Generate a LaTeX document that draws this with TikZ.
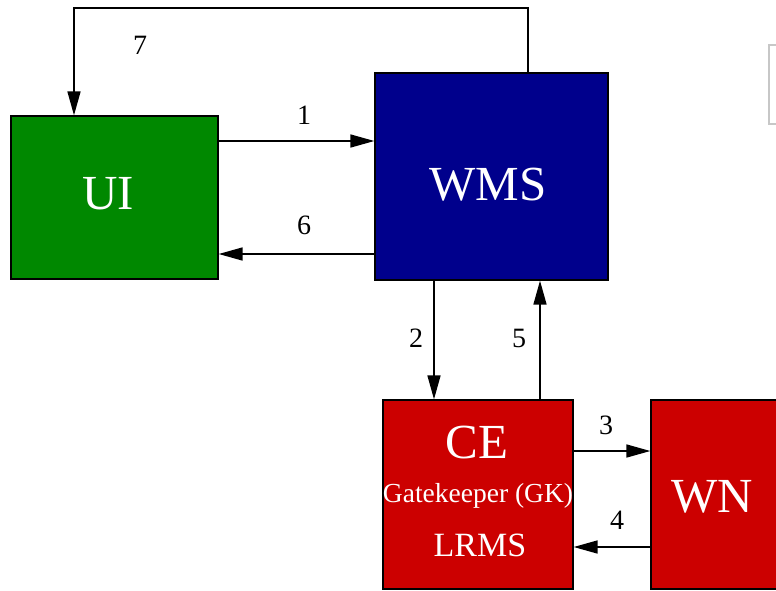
\documentclass[tikz,border=0pt]{standalone}
\usepackage{fontspec}
\setmainfont{Liberation Serif}
\usepackage{xcolor}
\usepackage{tikz}
\usetikzlibrary{arrows.meta, positioning, calc}

\definecolor{uigreen}{RGB}{0,136,0}
\definecolor{wmsblue}{RGB}{0,0,140}
\definecolor{cered}{RGB}{204,0,0}

\begin{document}
\begin{tikzpicture}[x=1pt,y=-1pt,
  box/.style={draw=black,line width=1.3pt,inner sep=0pt},
  big/.style={text=white,font=\fontsize{49}{49}\selectfont},
  arr/.style={line width=1.6pt,-{Triangle[length=24pt,width=13pt]}},
  num/.style={font=\fontsize{28}{28}\selectfont}]
  \useasboundingbox (0,0) rectangle (776,590);
  \clip (0,0) rectangle (776,590);

  % Boxes
  \node[box,fill=uigreen,minimum width=207pt,minimum height=163pt] (UI) at (114.5,197.5) {};
  \node[box,fill=wmsblue,minimum width=233pt,minimum height=207pt] (WMS) at (491.5,176.5) {};
  \node[box,fill=cered,minimum width=190pt,minimum height=189pt] (CE) at (478,494.5) {};
  \node[box,fill=cered,minimum width=240pt,minimum height=189pt] (WN) at (771,494.5) {};

  % Box texts
  \node[big] (uilabel) at (108,194) {UI};
  \node[big] (wmslabel) at (488,185) {WMS};
  \node[big] (celabel) at (477,443) {CE};
  \node[text=white,font=\fontsize{27.5}{27.5}\selectfont] (gklabel) at (478,496) {Gatekeeper (GK)};
  \node[text=white,font=\fontsize{34}{34}\selectfont] (lrmslabel) at (480,545) {LRMS};
  \node[big] (wnlabel) at (712,497) {WN};

  % Grey box cut at the right edge
  \draw[black!22,line width=2pt] (769,45) rectangle (800,124);

  % UI <-> WMS
  \draw[arr] ([yshift=56.5pt]UI.east) -- ([yshift=56.5pt]UI.east -| WMS.west);
  \draw[arr] ([yshift=-56.5pt]UI.east -| WMS.west) -- ([yshift=-56.5pt]UI.east);

  % WMS <-> CE
  \draw[arr] ([xshift=-57.5pt]WMS.south) -- ([xshift=-57.5pt]WMS.south |- CE.north);
  \draw[arr] ([xshift=48.5pt]WMS.south |- CE.north) -- ([xshift=48.5pt]WMS.south);

  % CE <-> WN
  \draw[arr] ([yshift=43.5pt]CE.east) -- ([yshift=43.5pt]CE.east -| WN.west);
  \draw[arr] ([yshift=-52.5pt]CE.east -| WN.west) -- ([yshift=-52.5pt]CE.east);

  % WMS back to UI
  \coordinate (loop) at (74,8);
  \draw[arr] ([xshift=36.5pt]WMS.north) |- (loop) -- (loop |- UI.north);

  % Numbers
  \node[num] (n1) at (304,115) {1};
  \node[num] (n2) at (416,338) {2};
  \node[num] (n3) at (606,425) {3};
  \node[num] (n4) at (617,520) {4};
  \node[num] (n5) at (519,338) {5};
  \node[num] (n6) at (304,225) {6};
  \node[num] (n7) at (140,45) {7};
\end{tikzpicture}
\end{document}
